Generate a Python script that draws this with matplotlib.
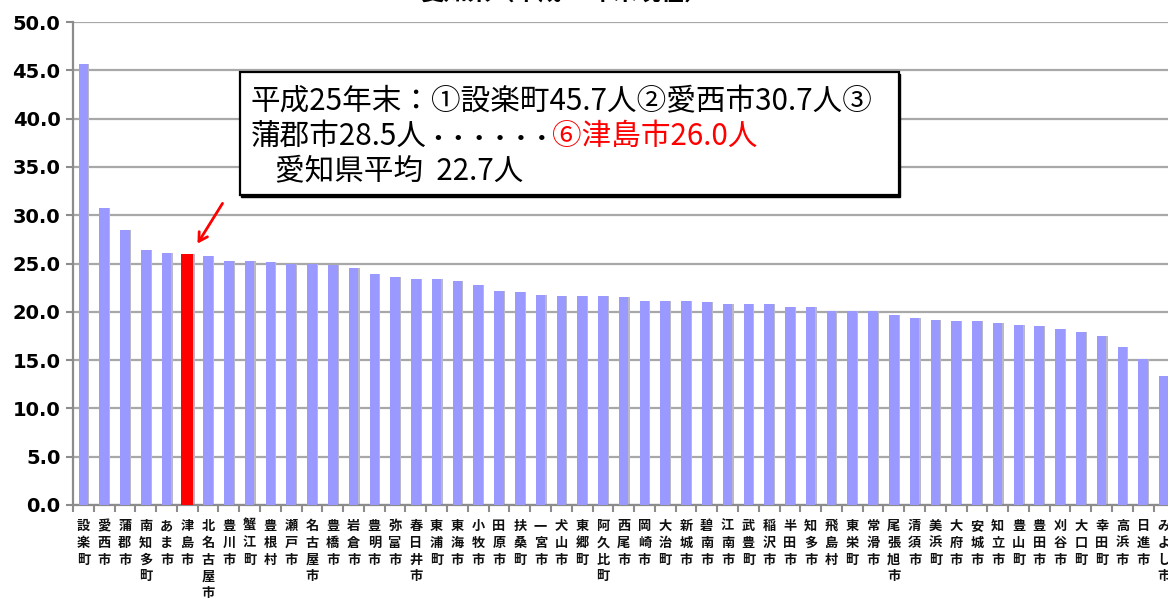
import matplotlib
matplotlib.use("Agg")
import matplotlib.pyplot as plt
from matplotlib.patches import Rectangle, FancyArrowPatch

plt.rcParams['font.family'] = ['Noto Sans CJK JP', 'DejaVu Sans']

municipalities = [
    "設楽町", "愛西市", "蒲郡市", "南知多町", "あま市", "津島市", "北名古屋市", "豊川市",
    "蟹江町", "豊根村", "瀬戸市", "名古屋市", "豊橋市", "岩倉市", "豊明市", "弥富市",
    "春日井市", "東浦町", "東海市", "小牧市", "田原市", "扶桑町", "一宮市", "犬山市",
    "東郷町", "阿久比町", "西尾市", "岡崎市", "大治町", "新城市", "碧南市", "江南市",
    "武豊町", "稲沢市", "半田市", "知多市", "飛島村", "東栄町", "常滑市", "尾張旭市",
    "清須市", "美浜町", "大府市", "安城市", "知立市", "豊山町", "豊田市", "刈谷市",
    "大口町", "幸田町", "高浜市", "日進市", "みよし市",
]
values = [
    45.7, 30.7, 28.5, 26.4, 26.1, 26.0, 25.8, 25.3,
    25.3, 25.2, 25.0, 24.9, 24.8, 24.5, 23.9, 23.6,
    23.4, 23.4, 23.2, 22.8, 22.2, 22.0, 21.7, 21.6,
    21.6, 21.6, 21.5, 21.1, 21.1, 21.1, 21.0, 20.8,
    20.8, 20.8, 20.5, 20.5, 20.1, 20.1, 20.1, 19.7,
    19.4, 19.2, 19.0, 19.0, 18.8, 18.6, 18.5, 18.2,
    17.9, 17.5, 16.4, 15.1, 13.4,
]
highlight = "津島市"
y_ticks = [0, 5, 10, 15, 20, 25, 30, 35, 40, 45, 50]
title = "愛知県（平成25年末現在）"
note_line1 = "平成25年末：①設楽町45.7人②愛西市30.7人③"
note_line2_black = "蒲郡市28.5人"
note_line2_dots = "・・・・・・"
note_line2_red = "⑥津島市26.0人"
note_line3 = "愛知県平均  22.7人"

W, H = 1168, 604
fig = plt.figure(figsize=(W / 100, H / 100), dpi=100)

def fx(px):
    return px / W

def fy(py):
    return 1 - py / H

ax_left, ax_right, ax_top, ax_bottom = 73, 73 + 53 * 20.78, 22, 505
ax = fig.add_axes([fx(ax_left), fy(ax_bottom), fx(ax_right - ax_left), (ax_bottom - ax_top) / H])

x = list(range(len(values)))
colors = ['#FF0000' if m == highlight else '#9999FF' for m in municipalities]
widths = [0.58 if m == highlight else 0.46 for m in municipalities]
# subtle shadow
ax.bar([i + 0.06 for i in x], values, width=widths, color='#b8b8c8', zorder=2, linewidth=0)
ax.bar(x, values, width=widths, color=colors, zorder=3, linewidth=0)

ax.set_xlim(-0.5, len(values) - 0.5)
ax.set_ylim(0, 50)
ax.set_yticks(y_ticks)
ax.set_yticklabels([f"{v:.1f}" for v in y_ticks], family='DejaVu Sans', fontweight='bold', fontsize=14)
ax.yaxis.grid(True, color='#a8a8a8', linewidth=1.6, zorder=0)
ax.set_axisbelow(True)
for s in ['top', 'right']:
    ax.spines[s].set_visible(False)
for s in ['left', 'bottom']:
    ax.spines[s].set_color('#8c8c8c')
    ax.spines[s].set_linewidth(1.6)
ax.tick_params(axis='y', length=5, width=1.5, color='#8c8c8c', pad=4)

# category boundary ticks
ax.set_xticks([i - 0.5 for i in range(len(values) + 1)])
ax.set_xticklabels([])
ax.tick_params(axis='x', length=5, width=1.5, color='#8c8c8c', direction='out')

# vertical labels
for i, name in enumerate(municipalities):
    ax.text(i, -1.45, "\n".join(name), ha='center', va='top', fontsize=9.5,
            fontweight='bold', linespacing=1.25, color='#111111', clip_on=False)

# title (cut at top)
fig.text(fx(565), fy(5.5), title, ha='center', va='bottom', fontsize=17, fontweight='bold')

# annotation box
bx0, bx1, by0, by1 = 240, 899, 72, 195
shadow = Rectangle((fx(bx0 + 1), fy(by1 + 2)), fx(bx1 - bx0), (by1 - by0) / H,
                   transform=fig.transFigure, facecolor='black', edgecolor='black', zorder=5)
box = Rectangle((fx(bx0), fy(by1)), fx(bx1 - bx0), (by1 - by0) / H,
                transform=fig.transFigure, facecolor='white', edgecolor='black', linewidth=1.6, zorder=6)
fig.add_artist(shadow)
fig.add_artist(box)

fs = 21.3
fig.text(fx(251), fy(110), note_line1, fontsize=fs, ha='left', va='baseline', zorder=7)
t2 = fig.text(fx(251), fy(145), note_line2_black, fontsize=fs, ha='left', va='baseline', zorder=7)
fig.canvas.draw()
bb = t2.get_window_extent()
t3 = fig.text(bb.x1 / W, fy(145), note_line2_dots, fontsize=15, fontweight='bold',
              ha='left', va='baseline', zorder=7)
fig.canvas.draw()
bb3 = t3.get_window_extent()
fig.text(bb3.x1 / W, fy(145), note_line2_red, fontsize=fs, color='#FF0000', ha='left', va='baseline', zorder=7)
fig.text(fx(275), fy(179), note_line3, fontsize=fs, ha='left', va='baseline', zorder=7)

# red arrow
arrow = FancyArrowPatch((fx(224), fy(201)), (fx(196), fy(246)), transform=fig.transFigure,
                        arrowstyle='->,head_length=6,head_width=3.5', color='#FF0000', linewidth=2, zorder=8)
fig.add_artist(arrow)

fig.savefig("out.png", dpi=100)
